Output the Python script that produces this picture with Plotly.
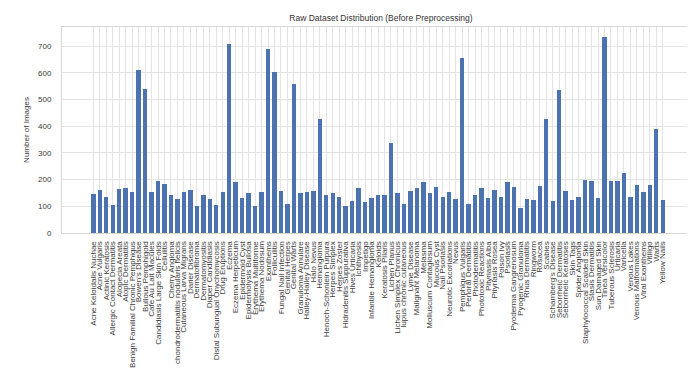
import plotly.graph_objects as go

# Image counts per skin-condition class in the raw dataset
categories = [
    "Acne Keloidalis Nuchae", "Acne Vulgaris", "Actinic Keratosis", "Allergic Contact Dermatitis",
    "Alopecia Areata", "Atopic Dermatitis", "Benign Familial Chronic Pemphigus", "Bowen's Disease",
    "Bullous Pemphigoid", "Cafe Au Lait Macules", "Candidiasis Large Skin Folds", "Cellulitis",
    "Cherry Angioma", "chondrodermatitis nodularis helicis", "Cutaneous Larva Migrans", "Darier Disease",
    "Dermatofibroma", "Dermatomyositis", "Diaper Candidiasis", "Distal Subungual Onychomycosis",
    "Drug Eruptions", "Eczema", "Eczema Herpeticum", "Epidermoid Cyst",
    "Epidermolysis Bullosa", "Erythema Multiforme", "Erythema Nodosum", "Exanthems",
    "Folliculitis", "Fungal Nail Infection", "Genital Herpes", "Genital Warts",
    "Granuloma Annulare", "Hailey-Hailey Disease", "Halo Nevus", "Hemangioma",
    "Henoch-Schonlein Purpura", "Herpes Simplex", "Herpes Zoster", "Hidradenitis Suppurativa",
    "Hives Urticaria", "Ichthyosis", "Impetigo", "Infantile Hemangioma",
    "Keloids", "Keratosis Pilaris", "Lichen Planus", "Lichen Simplex Chronicus",
    "lupus chronic cutaneous", "Lyme Disease", "Malignant Melanoma", "Melasma",
    "Molluscum Contagiosum", "Mucous Cyst", "Nail Psoriasis", "Neurotic Excoriations",
    "Nevus", "Pemphigus Vulgaris", "Perioral Dermatitis", "Photodermatitis",
    "Phototoxic Reactions", "Pityriasis Alba", "Pityriasis Rosea", "Poison Ivy",
    "Psoriasis", "Pyoderma Gangrenosum", "Pyogenic Granuloma", "Rhus Dermatitis",
    "Ringworm", "Rosacea", "Scabies", "Schamberg's Disease",
    "Seborrheic Dermatitis", "Seborrheic Keratoses", "Skin Tags", "Spider Angioma",
    "Staphylococcal Scalded Skin", "Stasis Dermatitis", "Sun Damaged Skin", "Tinea Versicolor",
    "Tuberous Sclerosis", "Urticaria", "Varicella", "Venous Lakes",
    "Venous Malformations", "Viral Exanthems", "Vitiligo", "Warts",
    "Yellow Nails",
]

image_counts = [
    146, 162, 135, 104, 164, 169, 154, 612, 541, 154,
    195, 183, 142, 126, 154, 162, 101, 141, 126, 104,
    154, 707, 190, 131, 149, 101, 154, 689, 605, 158,
    107, 557, 151, 154, 157, 428, 142, 149, 136, 101,
    119, 168, 115, 131, 141, 144, 338, 149, 109, 156,
    168, 193, 151, 172, 135, 152, 128, 656, 109, 143,
    167, 131, 162, 136, 190, 172, 94, 127, 125, 175,
    428, 120, 536, 158, 122, 135, 198, 196, 130, 735,
    196, 196, 225, 135, 181, 154, 179, 390, 125,
]

y_ticks = [0, 100, 200, 300, 400, 500, 600, 700]

W, H = 691, 369
ML, MR, MT, MB = 62, 4, 27, 136
plot_w = W - ML - MR


def px_x(px):
    return (px - ML) / plot_w


n = len(categories)
x_pos = list(range(n))

fig = go.Figure(
    go.Bar(
        x=x_pos,
        y=image_counts,
        width=0.68,
        marker=dict(color="#4C72B0", line=dict(width=0)),
        hovertext=categories,
    )
)

grid = "#e3e3e3"
text_col = "#3a3a3a"
font_fam = "Liberation Sans, Arial, sans-serif"

fig.update_layout(
    width=W,
    height=H,
    margin=dict(l=ML, r=MR, t=MT, b=MB, pad=0),
    paper_bgcolor="white",
    plot_bgcolor="white",
    showlegend=False,
    bargap=0,
    font=dict(family=font_fam, size=8, color=text_col),
    title=dict(
        text="Raw Dataset Distribution (Before Preprocessing)",
        x=px_x(381),
        xref="paper",
        xanchor="center",
        y=1 - 18 / H,
        yref="container",
        yanchor="middle",
        font=dict(size=8.5, color="#333333"),
    ),
    xaxis=dict(
        tickmode="array",
        tickvals=x_pos,
        ticktext=categories,
        tickangle=-90,
        range=[-4.84, 91.75],
        showgrid=True,
        gridcolor=grid,
        gridwidth=1,
        zeroline=False,
        showline=True,
        linecolor="#d6d6d6",
        linewidth=1,
        mirror=True,
        ticks="",
        ticklabelstandoff=4,
        automargin=False,
        tickfont=dict(size=8, color=text_col),
    ),
    yaxis=dict(
        range=[0, 772],
        tickmode="array",
        tickvals=y_ticks,
        showgrid=True,
        gridcolor=grid,
        gridwidth=1,
        zeroline=False,
        showline=True,
        linecolor="#d6d6d6",
        linewidth=1,
        ticks="",
        ticklabelstandoff=8,
        automargin=False,
        tickfont=dict(size=8, color=text_col),
        title=dict(text="Number of Images", standoff=7, font=dict(size=8, color=text_col)),
    ),
)

fig.write_html("out.html")
